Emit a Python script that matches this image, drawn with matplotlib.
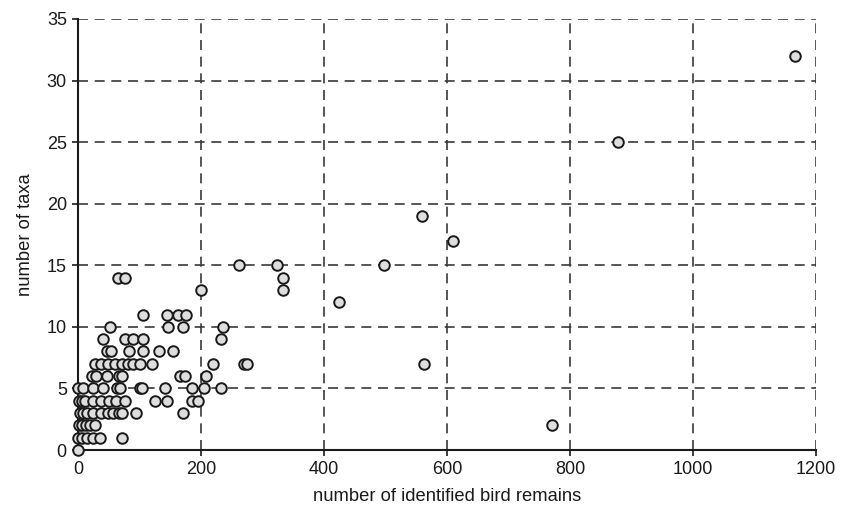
import matplotlib
matplotlib.use("Agg")
import matplotlib.pyplot as plt
from matplotlib import font_manager

# number of identified bird remains, grouped by number of taxa
taxa_0 = [0]
taxa_1 = [0, 7, 15, 25, 36, 72]
taxa_2 = [1, 7, 13, 20, 27, 770]
taxa_3 = [3, 9, 14, 25, 38, 49, 57, 67, 71, 95, 170]
taxa_4 = [1, 7, 12, 25, 37, 50, 62, 76, 126, 144, 185, 195]
taxa_5 = [0, 9, 25, 41, 63, 68, 101, 104, 141, 185, 205, 232]
taxa_6 = [23, 29, 48, 66, 72, 166, 174, 208]
taxa_7 = [28, 38, 49, 61, 72, 82, 90, 101, 121, 219, 270, 275, 563]
taxa_8 = [47, 53, 83, 105, 132, 154]
taxa_9 = [41, 76, 90, 106, 232]
taxa_10 = [52, 146, 171, 236]
taxa_11 = [106, 145, 163, 176]
taxa_12 = [424]
taxa_13 = [200, 333]
taxa_14 = [65, 76, 333]
taxa_15 = [262, 323, 498]
taxa_17 = [609]
taxa_19 = [559]
taxa_25 = [878]
taxa_32 = [1165]

groups = {0: taxa_0, 1: taxa_1, 2: taxa_2, 3: taxa_3, 4: taxa_4, 5: taxa_5,
          6: taxa_6, 7: taxa_7, 8: taxa_8, 9: taxa_9, 10: taxa_10, 11: taxa_11,
          12: taxa_12, 13: taxa_13, 14: taxa_14, 15: taxa_15, 17: taxa_17,
          19: taxa_19, 25: taxa_25, 32: taxa_32}

remains = []
taxa = []
for n, xs in groups.items():
    remains += xs
    taxa += [n] * len(xs)

names = {f.name for f in font_manager.fontManager.ttflist}
fam = 'Liberation Sans Narrow' if 'Liberation Sans Narrow' in names else 'Liberation Sans'
plt.rcParams['font.family'] = [fam, 'DejaVu Sans']

fig = plt.figure(figsize=(8.52, 5.13), dpi=100)
ax = fig.add_axes([0.0915, 0.1228, 0.8665, 0.8402])

ax.scatter(remains, taxa, s=58, facecolor='#dedede', edgecolor='#1a1a1a',
           linewidth=1.4, zorder=3, clip_on=False)

ax.set_xlim(0, 1200)
ax.set_ylim(0, 35)
ax.set_xticks(range(0, 1201, 200))
ax.set_yticks(range(0, 36, 5))
ax.grid(True, color='#3a3a3a', linestyle=(0, (6, 4)), linewidth=1.2)
ax.set_axisbelow(True)

for s in ['top', 'right']:
    ax.spines[s].set_visible(False)
for s in ['left', 'bottom']:
    ax.spines[s].set_linewidth(1.5)
    ax.spines[s].set_color('#1a1a1a')

ax.tick_params(direction='out', length=4, width=1.2, labelsize=13, colors='#1a1a1a', pad=4)
ax.set_xlabel('number of identified bird remains', fontsize=13.2, labelpad=7, color='#1a1a1a')
ax.set_ylabel('number of taxa', fontsize=13.2, labelpad=9, color='#1a1a1a')

fig.savefig('out.png', dpi=100)
